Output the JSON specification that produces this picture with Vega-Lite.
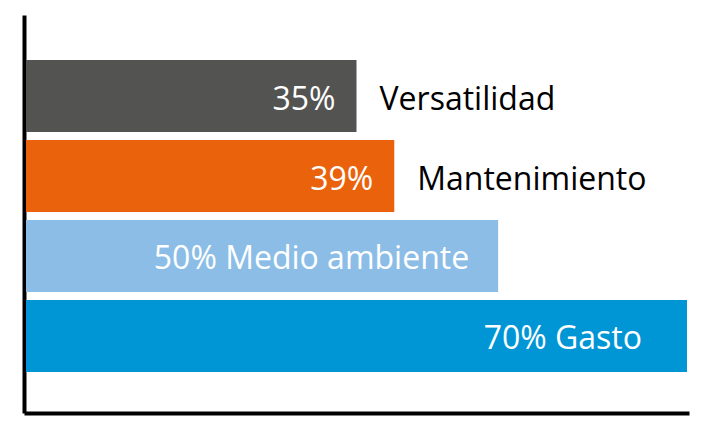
{
  "$schema": "https://vega.github.io/schema/vega-lite/v6.json",
  "autosize": {"type": "none"},
  "padding": {"left": 26, "top": 17, "right": 22, "bottom": 27},
  "width": 661,
  "height": 394,
  "background": "white",
  "config": {
    "view": {"stroke": null},
    "text": {"font": "Open Sans", "fontSize": 32},
    "axis": {"grid": false, "ticks": false, "labels": false, "title": null, "domainColor": "black", "domainWidth": 4, "offset": 2, "domainCap": "square"}
  },
  "data": {
    "values": [
      {"cat": "Versatilidad", "value": 35, "pct": "35%", "group": "out"},
      {"cat": "Mantenimiento", "value": 39, "pct": "39%", "group": "out"},
      {"cat": "Medio ambiente", "value": 50, "pct": "50% Medio ambiente", "group": "in50"},
      {"cat": "Gasto", "value": 70, "pct": "70% Gasto", "group": "in70"}
    ]
  },
  "encoding": {
    "y": {
      "field": "cat", "type": "nominal", "sort": null,
      "scale": {"paddingInner": 0.1, "paddingOuter": 0.5125, "align": 0.524},
      "axis": {}
    },
    "x": {
      "field": "value", "type": "quantitative",
      "scale": {"domain": [0, 70], "nice": false, "zero": true},
      "axis": {}
    }
  },
  "layer": [
    {
      "mark": {"type": "bar"},
      "encoding": {
        "color": {
          "field": "cat", "type": "nominal", "legend": null,
          "scale": {"domain": ["Versatilidad", "Mantenimiento", "Medio ambiente", "Gasto"], "range": ["#535352", "#EA620C", "#8BBDE6", "#0096D6"]}
        }
      }
    },
    {
      "transform": [{"filter": "datum.group === 'out'"}],
      "mark": {"type": "text", "align": "right", "baseline": "alphabetic", "dx": -21, "dy": 14, "color": "white"},
      "encoding": {"text": {"field": "pct"}}
    },
    {
      "transform": [{"filter": "datum.group === 'out'"}],
      "mark": {"type": "text", "align": "left", "baseline": "alphabetic", "dx": 23, "dy": 14, "color": "black"},
      "encoding": {"text": {"field": "cat"}}
    },
    {
      "transform": [{"filter": "datum.group === 'in50'"}],
      "mark": {"type": "text", "align": "right", "baseline": "alphabetic", "dx": -29, "dy": 13, "color": "white"},
      "encoding": {"text": {"field": "pct"}}
    },
    {
      "transform": [{"filter": "datum.group === 'in70'"}],
      "mark": {"type": "text", "align": "right", "baseline": "alphabetic", "dx": -45, "dy": 13, "color": "white"},
      "encoding": {"text": {"field": "pct"}}
    }
  ]
}
